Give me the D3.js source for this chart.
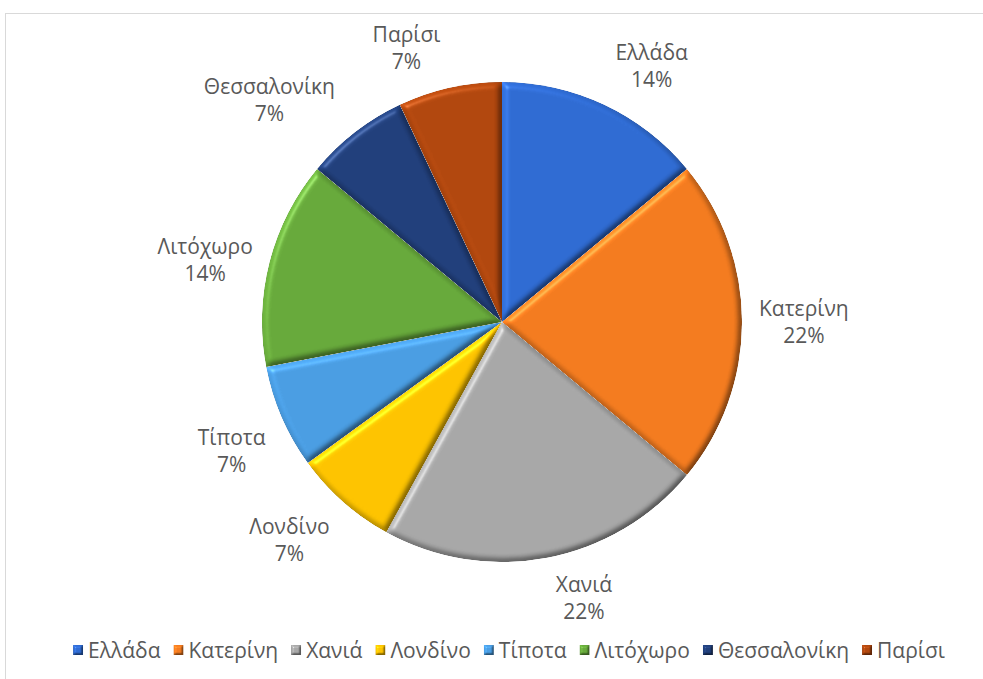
<!DOCTYPE html>
<html>
<head>
<meta charset="utf-8">
<script src="https://cdn.jsdelivr.net/npm/d3@7"></script>
<style>
  body { margin: 0; background: #fff; }
  svg { display: block; }
  text { font-family: "Open Sans", sans-serif; fill: #595959; }
</style>
</head>
<body>
<svg id="chart" width="983" height="679"></svg>
<script>
// ---- data ----
const categories = ["Ελλάδα", "Κατερίνη", "Χανιά", "Λονδίνο", "Τίποτα", "Λιτόχωρο", "Θεσσαλονίκη", "Παρίσι"];
const shares = [14, 22, 22, 7, 7, 14, 7, 7];
const sliceColors = ["#2f6bd2", "#f37b1f", "#a7a7a7", "#fdc300", "#4a9de2", "#67a93b", "#213f7b", "#b1470e"];

// ---- layout ----
const W = 983, H = 679;
const cx = 502, cy = 322, radius = 240;
const labelFont = 21, legendFont = 21;

const svg = d3.select("#chart");
const defs = svg.append("defs");

// soft bevel: lighting computed from a blurred alpha mask of each shape
function bevelFilter(id, blur, scale, shade, shine) {
  const elev = 50;
  const f = defs.append("filter").attr("id", id)
    .attr("x", "-10%").attr("y", "-10%").attr("width", "120%").attr("height", "120%")
    .attr("color-interpolation-filters", "sRGB");
  f.append("feGaussianBlur").attr("in", "SourceAlpha").attr("stdDeviation", blur).attr("result", "blur");
  f.append("feDiffuseLighting").attr("in", "blur").attr("surfaceScale", scale)
    .attr("diffuseConstant", 1).attr("lighting-color", "#fff").attr("result", "light")
    .append("feDistantLight").attr("azimuth", 225).attr("elevation", elev);
  f.append("feComposite").attr("in", "SourceGraphic").attr("in2", "light")
    .attr("operator", "arithmetic").attr("k1", shade).attr("k2", 1 - shade * Math.sin(elev * Math.PI / 180))
    .attr("k3", 0).attr("k4", 0).attr("result", "shaded");
  f.append("feSpecularLighting").attr("in", "blur").attr("surfaceScale", scale)
    .attr("specularConstant", shine).attr("specularExponent", 30).attr("lighting-color", "#fff").attr("result", "spec")
    .append("feDistantLight").attr("azimuth", 225).attr("elevation", 35);
  f.append("feComposite").attr("in", "shaded").attr("in2", "spec")
    .attr("operator", "arithmetic").attr("k1", 0).attr("k2", 1).attr("k3", 1).attr("k4", 0).attr("result", "lit");
  f.append("feComposite").attr("in", "lit").attr("in2", "SourceAlpha").attr("operator", "in");
}
bevelFilter("bevel", 3.2, 5, 0.6, 0.18);
bevelFilter("bevelSmall", 1.2, 3, 0.6, 0.2);

// chart frame
svg.append("rect")
  .attr("x", 5.5).attr("y", 13.5).attr("width", W + 20).attr("height", H + 20)
  .attr("fill", "#fff").attr("stroke", "#d9d9d9").attr("stroke-width", 1);

// ---- pie ----
const pie = d3.pie().sort(null).value(d => d)(shares);
const arc = d3.arc().innerRadius(0).outerRadius(radius);

const gPie = svg.append("g").attr("transform", `translate(${cx},${cy})`);
gPie.selectAll("path.slice")
  .data(pie)
  .join("path")
  .attr("class", "slice")
  .attr("d", arc)
  .attr("fill", (d, i) => sliceColors[i])
  .attr("filter", "url(#bevel)");

// ---- data labels (outside end) ----
const gLab = svg.append("g");
const labels = pie.map((d, i) => {
  const g = gLab.append("g");
  const t1 = g.append("text").attr("text-anchor", "middle").attr("font-size", labelFont).text(categories[i]);
  const t2 = g.append("text").attr("text-anchor", "middle").attr("font-size", labelFont).text(shares[i] + "%");
  const w = Math.max(t1.node().getComputedTextLength(), t2.node().getComputedTextLength());
  return { g, t1, t2, w, h: 54, theta: (d.startAngle + d.endAngle) / 2 };
});

const labelDist = radius + 10, padX = 7, padY = 3, labelGap = 36;
function placeAt(L, theta) {
  const s = Math.sin(theta), c = Math.cos(theta);
  const px = cx + labelDist * s, py = cy - labelDist * c;
  const ox = Math.abs(s) < 0.1 ? 0 : Math.sign(s) * (L.w / 2 + padX);
  const oy = Math.abs(c) < 0.34 ? 0 : -Math.sign(c) * (L.h / 2 + padY);
  L.x = px + ox; L.y = py + oy;
}
function overlaps(A, B, gap) {
  return Math.abs(A.x - B.x) < (A.w + B.w) / 2 + gap && Math.abs(A.y - B.y) < (A.h + B.h) / 2;
}
// place from the last slice backwards, nudging a label round the pie when it collides
const placed = [];
for (let i = labels.length - 1; i >= 0; i--) {
  const L = labels[i];
  let th = L.theta;
  placeAt(L, th);
  let guard = 0;
  while (placed.some(P => overlaps(L, P, labelGap)) && guard < 90) {
    th -= Math.PI / 180;
    placeAt(L, th);
    guard++;
  }
  placed.push(L);
}
labels.forEach(L => {
  L.t1.attr("x", L.x).attr("y", L.y - 6);
  L.t2.attr("x", L.x).attr("y", L.y + 21);
});

// ---- legend ----
const gLeg = svg.append("g");
const sw = 10, swGap = 5, itemGap = 13, legY = 650;
const items = categories.map((c, i) => {
  const g = gLeg.append("g");
  g.append("rect").attr("width", sw).attr("height", sw).attr("y", legY - sw / 2)
    .attr("fill", sliceColors[i]).attr("filter", "url(#bevelSmall)");
  const t = g.append("text").attr("x", sw + swGap).attr("y", legY + 7.5).attr("font-size", legendFont).text(c);
  return { g, w: sw + swGap + t.node().getComputedTextLength() };
});
const total = d3.sum(items, d => d.w) + itemGap * (items.length - 1);
let lx = 509 - total / 2;
items.forEach(it => {
  it.g.attr("transform", `translate(${lx},0)`);
  lx += it.w + itemGap;
});
</script>
</body>
</html>
